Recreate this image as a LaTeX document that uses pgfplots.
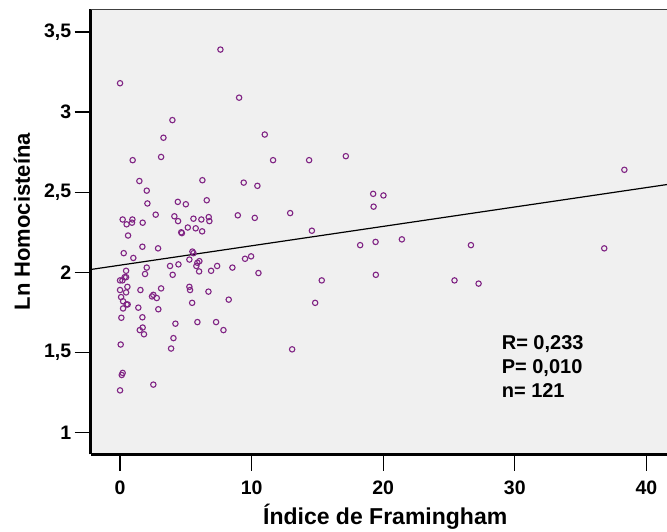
\documentclass[border=0pt]{standalone}
\usepackage{pgfplots}
\pgfplotsset{compat=1.18}
\usepackage{fontspec}
\setmainfont{Liberation Sans}
\definecolor{ptcol}{RGB}{128,36,132}
\definecolor{bgcol}{RGB}{240,240,240}
\begin{document}
\begin{tikzpicture}
\useasboundingbox (-90.7pt,-77.5pt) rectangle (576.3pt,454.5pt);
\begin{axis}[
  scale only axis,
  width=576.3pt, height=445pt,
  xmin=-2.23, xmax=41.57,
  ymin=0.864, ymax=3.64,
  axis background/.style={fill=bgcol},
  axis x line*=bottom, axis y line*=left,
  axis line style={line width=3pt, -},
  xtick={0,10,20,30,40},
  ytick={1,1.5,2,2.5,3,3.5},
  yticklabels={1,{1,5},2,{2,5},3,{3,5}},
  tick align=outside,
  major tick length=16pt,
  tick style={line width=1.2pt, black},
  /pgf/number format/assume math mode=true,
  ticklabel style={font=\fontsize{19.5}{23}\selectfont\bfseries},
  xticklabel style={yshift=-7pt},
  xlabel={Índice de Framingham},
  ylabel={Ln Homocisteína},
  xlabel style={font=\fontsize{23}{27}\selectfont\bfseries, at={([yshift=-62pt]axis description cs:0.511,0)}, anchor=center},
  ylabel style={font=\fontsize{22}{26}\selectfont\bfseries, at={([xshift=-68.7pt]axis description cs:0,0.523)}, anchor=center},
  clip=false,
]
\addplot[only marks, mark=o, mark size=2.7pt, mark options={line width=1.1pt, draw=ptcol}] table {
x y
0 3.18
7.63 3.39
9.05 3.09
3.98 2.95
3.3 2.84
11.0 2.86
0.96 2.70
3.12 2.72
11.63 2.70
1.47 2.57
2.03 2.51
6.26 2.575
9.4 2.56
10.44 2.54
2.08 2.43
4.39 2.44
5.0 2.425
6.59 2.45
2.71 2.36
0.2 2.33
0.5 2.30
0.94 2.33
0.91 2.31
1.72 2.31
4.13 2.35
4.41 2.32
5.58 2.335
6.18 2.33
6.74 2.345
6.79 2.32
8.95 2.356
10.24 2.34
12.93 2.37
0.61 2.23
5.15 2.28
5.75 2.275
4.65 2.25
4.7 2.245
6.24 2.256
1.70 2.16
2.89 2.15
0.28 2.12
1.01 2.09
5.5 2.13
5.58 2.12
5.27 2.08
5.88 2.06
6.03 2.07
5.80 2.04
6.01 2.006
3.80 2.04
4.44 2.05
4.0 1.985
2.03 2.03
1.9 1.99
0.46 2.01
6.92 2.01
7.38 2.04
8.54 2.03
9.5 2.085
9.96 2.10
10.52 1.996
0 1.95
0.18 1.95
0.35 1.97
0.46 1.97
0.56 1.91
0 1.89
0.46 1.875
0.08 1.846
0.23 1.82
0.5 1.80
0.58 1.80
0.23 1.775
0.1 1.717
1.55 1.89
3.12 1.90
2.43 1.85
2.53 1.86
2.79 1.84
1.39 1.78
2.91 1.77
1.70 1.72
1.5 1.64
1.72 1.656
1.82 1.614
5.27 1.91
5.32 1.89
6.72 1.88
5.48 1.81
8.26 1.83
4.21 1.68
5.88 1.69
7.3 1.69
7.86 1.64
4.06 1.59
3.88 1.525
0.05 1.55
0.2 1.373
0.13 1.36
0 1.264
2.53 1.30
13.08 1.52
14.37 2.70
17.16 2.725
19.24 2.49
20.02 2.48
19.27 2.41
14.58 2.26
18.25 2.17
19.42 2.19
21.42 2.206
26.67 2.17
15.33 1.95
19.44 1.985
25.42 1.95
27.25 1.93
14.83 1.81
38.33 2.64
36.8 2.15
};
\addplot[black, line width=1.2pt] coordinates {(-2.23,2.018) (41.57,2.548)};
\draw[black!75, line width=1.5pt] (rel axis cs:0,1) -- (rel axis cs:1,1);
\node[anchor=base west, font=\fontsize{20}{24}\selectfont\bfseries, inner sep=0pt] at (axis cs:29.0,1.519) {R= 0,233};
\node[anchor=base west, font=\fontsize{20}{24}\selectfont\bfseries, inner sep=0pt] at (axis cs:29.0,1.369) {P= 0,010};
\node[anchor=base west, font=\fontsize{20}{24}\selectfont\bfseries, inner sep=0pt] at (axis cs:29.0,1.219) {n= 121};
\end{axis}
\end{tikzpicture}
\end{document}
